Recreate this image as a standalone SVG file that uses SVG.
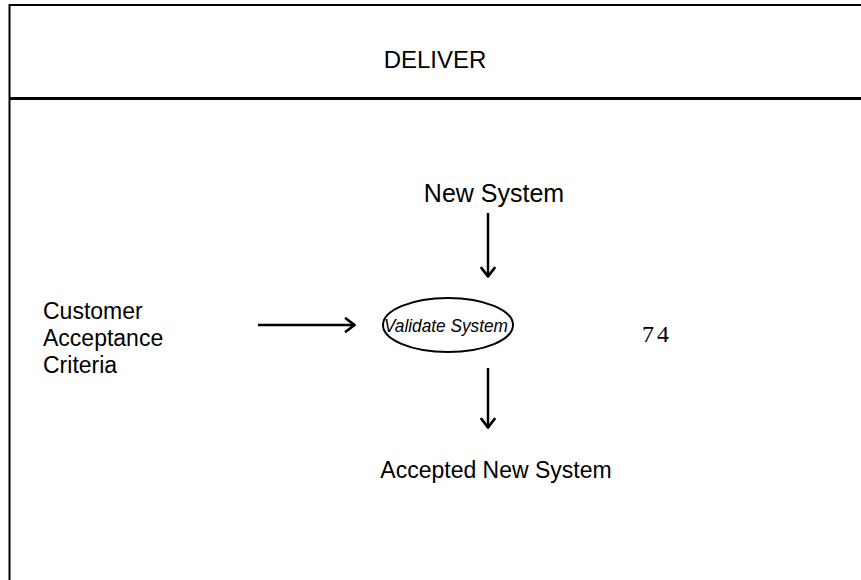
<svg xmlns="http://www.w3.org/2000/svg" width="861" height="580" viewBox="0 0 861 580">
  <style>
    .lbl { font-family: "Liberation Sans", Arial, sans-serif; font-size: 23px; fill: #000; }
    .title { font-size: 24px; }
    .proc { font-size: 19px; font-style: italic; }
    .num { font-family: "Liberation Serif", "Times New Roman", serif; font-size: 24px; letter-spacing: 3px; fill: #000; }
    .frame { fill: none; stroke: #000; }
    .flow { fill: none; stroke: #000; stroke-width: 2.5; }
  </style>
  <defs>
    <marker id="chev" viewBox="0 0 12 16" refX="11" refY="8" markerWidth="12" markerHeight="16" orient="auto" markerUnits="userSpaceOnUse">
      <path d="M2,1.5 L10.5,8 L2,14.5" fill="none" stroke="#000" stroke-width="2.8" stroke-linecap="round" stroke-linejoin="round"/>
    </marker>
  </defs>
  <rect width="861" height="580" fill="#fff"/>

  <!-- swimlane frame -->
  <g id="lane">
    <path class="frame" d="M9.5,580 V5 H861" stroke-width="2"/>
    <line class="frame" x1="9" y1="98.5" x2="861" y2="98.5" stroke-width="3"/>
    <text class="lbl title" x="435" y="68" text-anchor="middle">DELIVER</text>
  </g>

  <g id="input-system">
    <text class="lbl" x="494" y="202" text-anchor="middle" style="font-size:25px">New System</text>
  </g>

  <g id="input-criteria">
    <text class="lbl" x="43" y="319">Customer</text>
    <text class="lbl" x="43" y="346">Acceptance</text>
    <text class="lbl" x="43" y="373">Criteria</text>
  </g>

  <g id="validate">
    <ellipse cx="448" cy="325" rx="65" ry="27" fill="none" stroke="#000" stroke-width="2"/>
    <text class="lbl proc" x="384" y="332" textLength="124" lengthAdjust="spacingAndGlyphs">Validate System</text>
    <text class="num" x="642" y="342">74</text>
  </g>

  <g id="output-system">
    <text class="lbl" x="496" y="478" text-anchor="middle">Accepted New System</text>
  </g>

  <g id="connectors">
    <line class="flow" x1="258" y1="325" x2="355" y2="325" marker-end="url(#chev)"/>
    <line class="flow" x1="488" y1="213" x2="488" y2="277" marker-end="url(#chev)"/>
    <line class="flow" x1="488" y1="368" x2="488" y2="428" marker-end="url(#chev)"/>
  </g>
</svg>
